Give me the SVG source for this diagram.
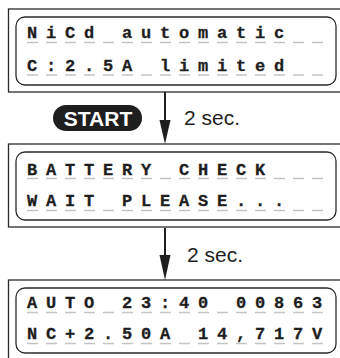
<svg xmlns="http://www.w3.org/2000/svg" width="340" height="358" viewBox="0 0 340 358">
<style>
.outer{fill:#fff;stroke:#2a2a2a;stroke-width:1.3}
.inner{fill:#fff;stroke:#2a2a2a;stroke-width:1.3}
.lcd{font-family:"Liberation Mono",monospace;font-weight:bold;font-size:17px;letter-spacing:8.8px;fill:#1e1e1e;stroke:#1e1e1e;stroke-width:0.3;white-space:pre}
.dash{stroke:#c4c4c4;stroke-width:1.6;stroke-dasharray:11 8;fill:none}
.conn{stroke:#1e1e1e;stroke-width:2;fill:none}
.head{fill:#1e1e1e}
.lbl{font-family:"Liberation Sans",Arial,sans-serif;font-size:21px;fill:#1e1e1e}
.btn{fill:#1e1e1e}
.btntxt{font-family:"Liberation Sans",Arial,sans-serif;font-weight:bold;font-size:21px;fill:#fff}
</style>
<rect width="340" height="358" fill="#fff"/>
<g id="connectors">
<line class="conn" x1="165" y1="92" x2="165" y2="124"/>
<polygon class="head" points="159.5,120 170.5,120 165,144"/>
<text class="lbl" x="184" y="125">2 sec.</text>
<line class="conn" x1="165" y1="228" x2="165" y2="258"/>
<polygon class="head" points="159.5,255 170.5,255 165,280"/>
<text class="lbl" x="187" y="261.5">2 sec.</text>
</g>
<g id="start-button">
<rect class="btn" x="53" y="105" width="89" height="26" rx="13"/>
<text class="btntxt" x="98" y="125.5" text-anchor="middle">START</text>
</g>
<g id="screen-nicd">
<rect class="outer" x="8.5" y="9" width="340" height="83"/>
<rect class="inner" x="16" y="17" width="320" height="68" rx="9"/>
<line class="dash" x1="27" y1="42.5" x2="331" y2="42.5"/>
<line class="dash" x1="27" y1="75" x2="331" y2="75"/>
<text class="lcd" x="27" y="38">NiCd automatic</text>
<text class="lcd" x="27" y="70.5">C:2.5A limited</text>
</g>
<g id="screen-battery-check">
<rect class="outer" x="8.5" y="144" width="340" height="83"/>
<rect class="inner" x="16" y="152" width="320" height="68" rx="9"/>
<line class="dash" x1="27" y1="178.5" x2="331" y2="178.5"/>
<line class="dash" x1="27" y1="210.5" x2="331" y2="210.5"/>
<text class="lcd" x="27" y="174.5">BATTERY CHECK</text>
<text class="lcd" x="27" y="206">WAIT PLEASE...</text>
</g>
<g id="screen-auto">
<rect class="outer" x="8.5" y="280" width="340" height="90"/>
<rect class="inner" x="16" y="288" width="320" height="65" rx="9"/>
<line class="dash" x1="27" y1="312.5" x2="331" y2="312.5"/>
<line class="dash" x1="27" y1="343.5" x2="331" y2="343.5"/>
<text class="lcd" x="27" y="308">AUTO 23:40 00863</text>
<text class="lcd" x="27" y="339">NC+2.50A 14,717V</text>
</g>
</svg>
